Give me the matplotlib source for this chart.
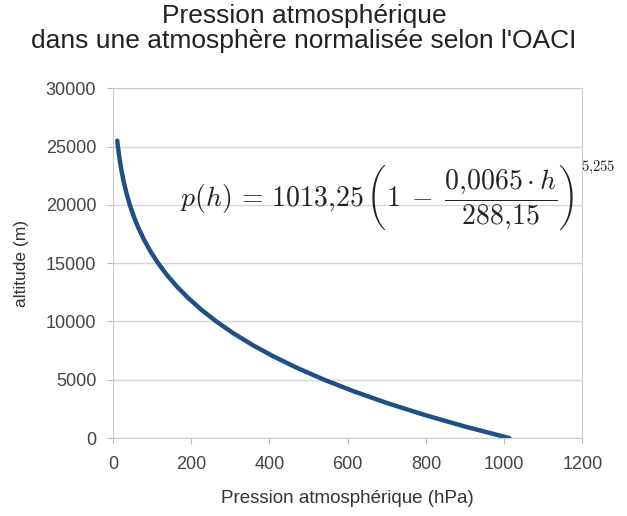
import numpy as np
import matplotlib
matplotlib.use("Agg")
import matplotlib.pyplot as plt

# altitude (m) and pressure (hPa)
altitude = [0, 1000, 2000, 3000, 4000, 5000, 6000, 7000, 8000, 9000, 10000,
            11000, 12000, 13000, 14000, 15000, 16000, 17000, 18000, 19000,
            20000, 21000, 22000, 23000, 24000, 25000, 25500]
pression = [1013.3, 898.7, 794.9, 701.1, 616.4, 540.2, 471.8, 410.6, 356.0,
            307.4, 264.4, 226.4, 192.9, 163.5, 137.9, 115.6, 96.3, 79.8,
            65.6, 53.5, 43.3, 34.7, 27.6, 21.7, 16.9, 12.9, 11.3]

xticks = [0, 200, 400, 600, 800, 1000, 1200]
yticks = [0, 5000, 10000, 15000, 20000, 25000, 30000]

plt.rcParams['font.family'] = ['Liberation Sans', 'DejaVu Sans']
plt.rcParams['mathtext.fontset'] = 'cm'

fig = plt.figure(figsize=(6.27, 5.16), dpi=100)
ax = fig.add_axes([0.180, 0.151, 0.749, 0.678])

ax.plot(pression, altitude, color="#1f4f87", linewidth=3.2, solid_capstyle="round")

ax.set_xlim(0, 1200)
ax.set_ylim(0, 30000)
ax.set_xticks(xticks)
ax.set_yticks(yticks)
ax.tick_params(colors="#bbbbbb", labelcolor="#444444", labelsize=13, length=4)
ax.tick_params(axis="x", pad=9)
ax.tick_params(axis="y", pad=8)
ax.yaxis.grid(True, color="#d6d6d6", linewidth=1)
for s in ax.spines.values():
    s.set_color("#cccccc")

ax.set_xlabel("Pression atmosphérique (hPa)", fontsize=13.5, color="#333333", labelpad=12)
ax.set_ylabel("altitude (m)", fontsize=12.5, color="#333333", labelpad=12)
fig.suptitle("Pression atmosphérique\ndans une atmosphère normalisée selon l'OACI",
             fontsize=19, color="#222222", x=0.485, y=0.993, linespacing=1.05)

# formula, with the exponent set apart like in the original
ax.text(0.143, 0.689,
        r"$p(h)\,=\,1013{,}25\,\left(1\;-\;\dfrac{0{,}0065\cdot h}{288{,}15}\right)$",
        transform=ax.transAxes, fontsize=20, color="#222222", va="center", ha="left")
ax.text(0.997, 0.775, r"$5{,}255$", transform=ax.transAxes, fontsize=10.5,
        color="#222222", va="center", ha="left", clip_on=False)

fig.savefig("out.png", dpi=100)
